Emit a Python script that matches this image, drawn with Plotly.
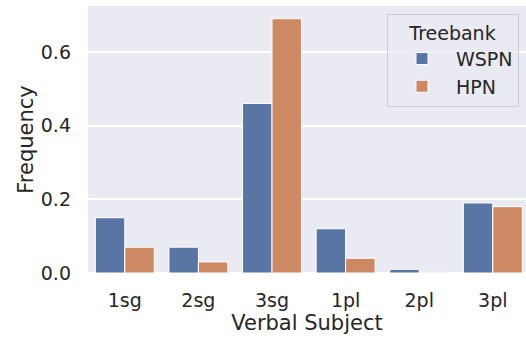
import plotly.graph_objects as go

categories = ["1sg", "2sg", "3sg", "1pl", "2pl", "3pl"]
wspn = [0.15, 0.07, 0.46, 0.12, 0.01, 0.19]
hpn = [0.07, 0.03, 0.69, 0.04, 0.002, 0.18]
y_ticks = [0.0, 0.2, 0.4, 0.6]

font = "DejaVu Sans, Verdana, sans-serif"
txt = "#262626"

fig = go.Figure()
fig.add_trace(go.Bar(x=categories, y=wspn, name="WSPN",
                     marker=dict(color="#5975A4", line=dict(color="white", width=1))))
fig.add_trace(go.Bar(x=categories, y=hpn, name="HPN",
                     marker=dict(color="#CC8963", line=dict(color="white", width=1))))

fig.update_layout(
    width=526, height=341,
    margin=dict(l=88, r=0, t=6, b=68, autoexpand=False),
    paper_bgcolor="white", plot_bgcolor="#EAEAF2",
    barmode="group", bargap=0.2, bargroupgap=0,
    font=dict(family=font, color=txt, size=19),
    showlegend=True,
    legend=dict(
        title=dict(text="Treebank", side="top center", font=dict(size=19, color=txt)),
        font=dict(size=19, color=txt),
        x=0.984, xanchor="right", y=0.9700, yanchor="top",
        bgcolor="rgba(234,234,242,0.8)", bordercolor="#CCCCCC", borderwidth=1,
        itemwidth=58, tracegroupgap=4,
    ),
)
fig.update_xaxes(
    range=[-0.5, 5.451], showgrid=False, zeroline=False, showline=False,
    automargin=False,
    ticks="", ticklabelstandoff=14, tickfont=dict(size=19, color=txt),
    title=dict(text="Verbal Subject", font=dict(size=21, color=txt), standoff=4),
)
fig.update_yaxes(
    range=[0, 0.7245], tickvals=y_ticks, tickformat=".1f",
    automargin=False,
    showgrid=True, gridcolor="white", gridwidth=1.5,
    zeroline=True, zerolinecolor="white", zerolinewidth=1.5, showline=False,
    ticks="", ticklabelstandoff=16, tickfont=dict(size=19, color=txt),
    title=dict(text="Frequency", font=dict(size=21, color=txt), standoff=1),
)

fig.write_html("out.html", config={"displayModeBar": False},
               post_script="document.body.style.margin='0';")
